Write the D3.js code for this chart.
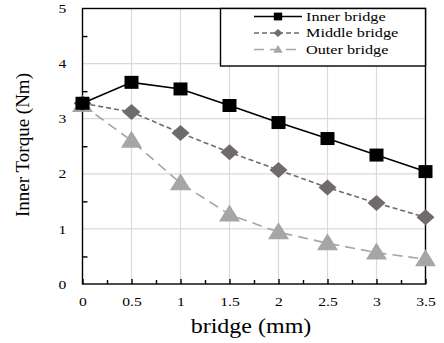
<!DOCTYPE html>
<html><head><meta charset="utf-8">
<script src="https://cdn.jsdelivr.net/npm/d3@7"></script>
<style>body{margin:0;background:#fff}svg{display:block}</style>
</head><body>
<script>
const bridge = [0, 0.5, 1, 1.5, 2, 2.5, 3, 3.5];
const inner = [3.28, 3.66, 3.54, 3.24, 2.93, 2.64, 2.34, 2.04];
const middle = [3.28, 3.12, 2.74, 2.39, 2.07, 1.75, 1.47, 1.21];
const outer = [3.25, 2.6, 1.83, 1.26, 0.94, 0.74, 0.57, 0.45];
const seriesNames = ["Inner bridge", "Middle bridge", "Outer bridge"];
const xTicks = [0, 0.5, 1, 1.5, 2, 2.5, 3, 3.5];
const xTickLabels = ["0", "0.5", "1", "1.5", "2", "2.5", "3", "3.5"];
const yTicks = [0, 1, 2, 3, 4, 5];

const W = 444, H = 343;
const m = {l: 82.5, r: 425.5, t: 8.5, b: 284};
const svg = d3.select("body").append("svg").attr("width", W).attr("height", H);
const x = d3.scaleLinear().domain([0, 3.5]).range([m.l, m.r]);
const y = d3.scaleLinear().domain([0, 5]).range([m.b, m.t]);
const font = "'Liberation Serif', 'Times New Roman', Times, 'DejaVu Serif', serif";
const STRETCH = 1.2;
function stretch(sel) {
  sel.each(function() {
    const len = this.getComputedTextLength();
    d3.select(this).attr("textLength", len * STRETCH).attr("lengthAdjust", "spacingAndGlyphs");
  });
}

// grid
svg.append("g").selectAll("line").data(xTicks.slice(1, -1)).join("line")
  .attr("x1", d => x(d)).attr("x2", d => x(d)).attr("y1", m.t).attr("y2", m.b)
  .attr("stroke", "#d9d9d9").attr("stroke-width", 1.2);
svg.append("g").selectAll("line").data(yTicks.slice(1, -1)).join("line")
  .attr("y1", d => y(d)).attr("y2", d => y(d)).attr("x1", m.l).attr("x2", m.r)
  .attr("stroke", "#d9d9d9").attr("stroke-width", 1.2);

// frame
svg.append("rect").attr("x", m.l).attr("y", m.t).attr("width", m.r - m.l).attr("height", m.b - m.t)
  .attr("fill", "none").attr("stroke", "#000").attr("stroke-width", 1.4);

// axes
const xAxis = d3.axisBottom(x).tickValues(xTicks).tickFormat((d, i) => xTickLabels[i]).tickSizeInner(-5).tickSizeOuter(0).tickPadding(13);
const gx = svg.append("g").attr("transform", `translate(0,${m.b})`).call(xAxis);
const xMinor = d3.axisBottom(x).tickValues(d3.range(0.25, 3.5, 0.5)).tickFormat("").tickSizeInner(-4).tickSizeOuter(0);
const gxm = svg.append("g").attr("transform", `translate(0,${m.b})`).call(xMinor);
const yAxis = d3.axisLeft(y).tickValues(yTicks).tickFormat(d3.format("d")).tickSize(0).tickPadding(0);
const gy = svg.append("g").attr("transform", `translate(${m.l},0)`).call(yAxis);
const yMinor = d3.axisLeft(y).tickValues(d3.range(0.5, 5, 1)).tickFormat("").tickSizeInner(-5).tickSizeOuter(0);
const gym = svg.append("g").attr("transform", `translate(${m.l},0)`).call(yMinor);
[gx, gxm, gy, gym].forEach(g => {
  g.attr("font-family", null);
  g.select(".domain").remove();
  g.selectAll("line").attr("stroke", "#000").attr("stroke-width", 1.4);
  g.selectAll("text").style("font-family", font).attr("font-size", 13).attr("fill", "#000");
});
gy.selectAll("text").attr("x", -20).attr("text-anchor", "middle");
stretch(gx.selectAll("text"));
stretch(gy.selectAll("text"));

const triPath = "M0,-10L10.5,7L-10.5,7Z";
const diaPath = "M0,-8L9,0L0,8L-9,0Z";
const sqPath = "M-7,-6.5L7,-6.5L7,6.5L-7,6.5Z";
const series = [
  {name: seriesNames[0], vals: inner, color: "#000", dash: null, sw: 1.6, shape: sqPath, ls: 0.6},
  {name: seriesNames[1], vals: middle, color: "#6f6b6b", dash: "5,3", sw: 1.6, shape: diaPath, ls: 0.5},
  {name: seriesNames[2], vals: outer, color: "#a6a6a6", dash: "10,6", sw: 1.6, shape: triPath, ls: 0.45}
];
const line = d3.line().x((d, i) => x(bridge[i])).y(d => y(d));
series.slice().reverse().forEach(s => {
  svg.append("path").attr("d", line(s.vals)).attr("fill", "none").attr("stroke", s.color)
    .attr("stroke-width", s.sw).attr("stroke-dasharray", s.dash);
  svg.append("g").selectAll("path").data(s.vals).join("path")
    .attr("transform", (d, i) => `translate(${x(bridge[i])},${y(d)})`)
    .attr("d", s.shape).attr("fill", s.color);
});

// legend
const lg = svg.append("g");
lg.append("rect").attr("x", 220.5).attr("y", 8.5).attr("width", 205).attr("height", 57.5)
  .attr("fill", "#fff").attr("stroke", "#000").attr("stroke-width", 1.4);
series.forEach((s, i) => {
  const yy = 16.5 + i * 16.5;
  lg.append("line").attr("x1", 254).attr("x2", 302).attr("y1", yy).attr("y2", yy)
    .attr("stroke", s.color).attr("stroke-width", s.sw).attr("stroke-dasharray", s.dash);
  lg.append("path").attr("transform", `translate(278,${yy}) scale(${s.ls})`)
    .attr("d", s.shape).attr("fill", s.color);
  const t = lg.append("text").attr("x", 306).attr("y", yy).attr("dy", "0.33em")
    .style("font-family", font).attr("font-size", 13.5).attr("fill", "#000").text(s.name);
  stretch(t);
});

// titles
const xt = svg.append("text").attr("x", 251).attr("y", 333).attr("text-anchor", "middle")
  .style("font-family", font).attr("font-size", 20).attr("fill", "#000").text("bridge (mm)");
stretch(xt);
svg.append("text").attr("transform", `translate(29,145) rotate(-90)`).attr("text-anchor", "middle")
  .style("font-family", font).attr("font-size", 19).attr("fill", "#000").text("Inner Torque (Nm)");
</script>
</body></html>
